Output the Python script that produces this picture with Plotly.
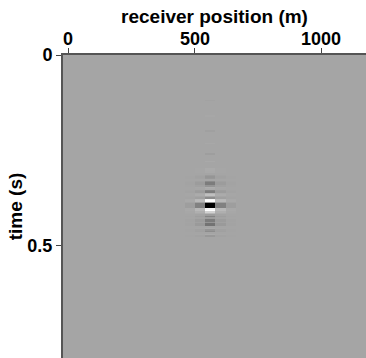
import numpy as np
import plotly.graph_objects as go

# receiver positions (m) and time samples (s)
receivers = [i * 40 for i in range(30)]          # 0 .. 1160 m
dt = 0.004
n_t = 201
times = [round(i * dt, 3) for i in range(n_t)]   # 0 .. 0.8 s

x_tick_vals = [0, 500, 1000]
x_tick_text = ["0", "500", "1000"]
y_tick_vals = [0, 0.5]
y_tick_text = ["0", "0.5"]

# spike location
spike_receiver = 560
trace_start_time = 0.300
# amplitude of the central trace starting at 0.300 s, every 4 ms
center_trace = [0.05, 0.06, 0.04, 0.0, -0.06, -0.10, -0.08, 0.0, -0.15, -0.25,
                -0.25, -0.10, 0.10, 0.05, -0.20, -0.25, 0.15, 0.30, 0.0, -0.15,
                0.90, 1.00, -0.10, -1.00, -1.00, -1.00, 0.90, 1.00, 0.50, 0.20,
                -0.05, -0.20, -0.05, -0.25, -0.25, -0.10, -0.30, -0.30, 0.0, 0.05,
                -0.10, -0.15, 0.0, 0.05, -0.08, 0.0]
# relative strength of neighbouring traces (offset in traces -> scale)
neighbour_offsets = [-2, -1, 1, 2]
neighbour_scales = [0.04, 0.22, 0.22, 0.04]

# faint precursor marks above the spike (time, amplitude)
faint_times = [0.12, 0.16, 0.20, 0.23, 0.26, 0.28]
faint_amps = [-0.02, 0.02, -0.03, 0.03, -0.04, 0.04]

z = np.zeros((n_t, len(receivers)))
ci = receivers.index(spike_receiver)
t0 = int(round(trace_start_time / dt))
for k, a in enumerate(center_trace):
    z[t0 + k, ci] += a
    for off, sc in zip(neighbour_offsets, neighbour_scales):
        z[t0 + k, ci + off] += a * sc
for ft, fa in zip(faint_times, faint_amps):
    z[int(round(ft / dt)), ci] += fa

fig = go.Figure(go.Heatmap(
    x=receivers, y=times, z=z,
    colorscale=[[0, "black"], [0.5, "#a5a5a5"], [1, "white"]],
    zmin=-1, zmax=1, showscale=False, hoverinfo="skip",
))

font_b = dict(family="Liberation Sans, Arial, sans-serif", size=18, color="black")
font_t = dict(family="Liberation Sans, Arial, sans-serif", size=19, color="black")

# x tick labels placed just above the top axis
for v, t in zip(x_tick_vals, x_tick_text):
    fig.add_annotation(x=v, xref="x", y=1, yref="paper", yanchor="bottom",
                       yshift=4, text="<b>%s</b>" % t, showarrow=False,
                       font=font_b)

fig.update_layout(
    width=366, height=358,
    margin=dict(l=63, r=0, t=55, b=0),
    paper_bgcolor="white", plot_bgcolor="#a5a5a5",
    xaxis=dict(
        side="top", range=[-21.7, 1176], tickvals=x_tick_vals,
        showticklabels=False,
        ticks="outside", ticklen=5, tickwidth=1, tickcolor="#444",
        showline=True, linecolor="#555", linewidth=2,
        showgrid=False, zeroline=False,
        title=dict(text="<b>receiver position (m)</b>", font=font_t, standoff=19),
    ),
    yaxis=dict(
        range=[0.795, 0], tickvals=y_tick_vals,
        ticktext=["<b>%s</b>" % t for t in y_tick_text],
        ticks="outside", ticklen=5, tickwidth=1, tickcolor="#444",
        showline=True, linecolor="#555", linewidth=2,
        showgrid=False, zeroline=False, tickfont=font_b,
        title=dict(text="<b>time (s)</b>", font=font_t, standoff=0),
    ),
)

fig.write_html("out.html")
